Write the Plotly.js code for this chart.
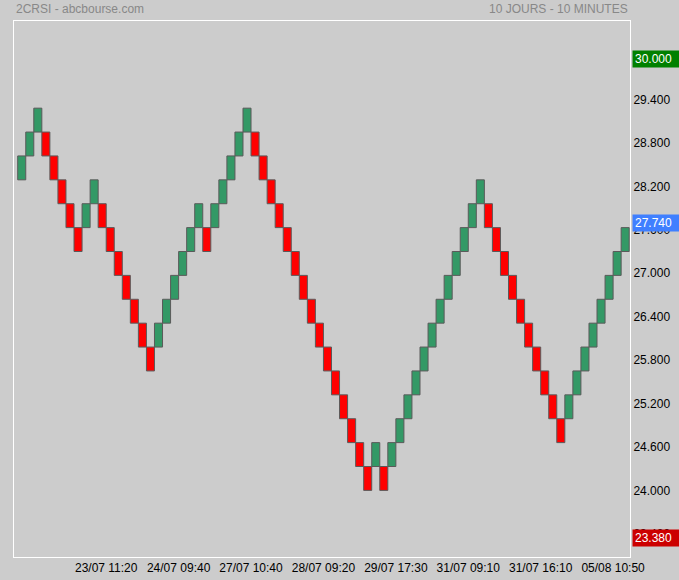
<!DOCTYPE html>
<html>
<head>
<meta charset="utf-8">
<script src="https://cdn.plot.ly/plotly-3.0.1.min.js"></script>
<style>
  html, body { margin: 0; padding: 0; background: #cccccc; }
  #chart { width: 679px; height: 580px; }
</style>
</head>
<body>
<div id="chart"></div>
<script>
// Renko bricks, in chronological order
const brickOpen = [
  28.29, 28.62, 28.95, 28.95, 28.62, 28.29, 27.96, 27.63, 27.63, 27.96,
  27.96, 27.63, 27.30, 26.97, 26.64, 26.31, 25.98, 25.98, 26.31, 26.64,
  26.97, 27.30, 27.63, 27.63, 27.63, 27.96, 28.29, 28.62, 28.95, 28.95,
  28.62, 28.29, 27.96, 27.63, 27.30, 26.97, 26.64, 26.31, 25.98, 25.65,
  25.32, 24.99, 24.66, 24.33, 24.33, 24.33, 24.33, 24.66, 24.99, 25.32,
  25.65, 25.98, 26.31, 26.64, 26.97, 27.30, 27.63, 27.96, 27.96, 27.63,
  27.30, 26.97, 26.64, 26.31, 25.98, 25.65, 25.32, 24.99, 24.99, 25.32,
  25.65, 25.98, 26.31, 26.64, 26.97, 27.30
];
const brickClose = [
  28.62, 28.95, 29.28, 28.62, 28.29, 27.96, 27.63, 27.30, 27.96, 28.29,
  27.63, 27.30, 26.97, 26.64, 26.31, 25.98, 25.65, 26.31, 26.64, 26.97,
  27.30, 27.63, 27.96, 27.30, 27.96, 28.29, 28.62, 28.95, 29.28, 28.62,
  28.29, 27.96, 27.63, 27.30, 26.97, 26.64, 26.31, 25.98, 25.65, 25.32,
  24.99, 24.66, 24.33, 24.00, 24.66, 24.00, 24.66, 24.99, 25.32, 25.65,
  25.98, 26.31, 26.64, 26.97, 27.30, 27.63, 27.96, 28.29, 27.63, 27.30,
  26.97, 26.64, 26.31, 25.98, 25.65, 25.32, 24.99, 24.66, 25.32, 25.65,
  25.98, 26.31, 26.64, 26.97, 27.30, 27.63
];

// Date tick labels and the brick positions they sit on
const dateTickPos = [10.5, 19.5, 28.5, 37.5, 46.5, 55.5, 64.5, 73.5];
const dateTickText = [
  "23/07 11:20", "24/07 09:40", "27/07 10:40", "28/07 09:20",
  "29/07 17:30", "31/07 09:10", "31/07 16:10", "05/08 10:50"
];

// Highlighted price labels on the right scale
const highPrice = 30.000;
const lastPrice = 27.740;
const lowPrice = 23.380;

const titleLeft = "2CRSI - abcbourse.com";
const titleRight = "10 JOURS - 10 MINUTES";

const GREEN = "#339966";
const RED = "#ff0000";

const xs = brickOpen.map((_, i) => i);
const bases = brickOpen.map((o, i) => Math.min(o, brickClose[i]));
const heights = brickOpen.map((o, i) => Math.abs(brickClose[i] - o));
const colors = brickOpen.map((o, i) => (brickClose[i] > o ? GREEN : RED));

const trace = {
  type: "bar",
  x: xs,
  y: heights,
  base: bases,
  width: 1,
  marker: { color: colors, line: { color: "#5a5a5a", width: 1 } },
  hoverinfo: "skip"
};

function priceBox(v, bg) {
  return {
    xref: "paper", yref: "y", x: 1, y: v,
    xanchor: "left", yanchor: "middle",
    xshift: 2, yshift: -3,
    text: v.toFixed(3),
    showarrow: false,
    align: "left",
    width: 43, height: 12,
    borderpad: 2,
    bgcolor: bg,
    font: { family: "Liberation Sans, Arial, sans-serif", size: 12, color: "#ffffff" }
  };
}

const layout = {
  width: 679, height: 580,
  paper_bgcolor: "#cccccc",
  plot_bgcolor: "#cccccc",
  margin: { l: 14, r: 49, t: 21, b: 23, pad: 0 },
  showlegend: false,
  bargap: 0,
  hovermode: false,
  font: { family: "Liberation Sans, Arial, sans-serif", size: 12, color: "#000000" },
  xaxis: {
    range: [-0.96, 75.6],
    showgrid: false, zeroline: false,
    showline: true, linecolor: "#ffffff", linewidth: 1, mirror: true,
    ticks: "",
    tickmode: "array", tickvals: dateTickPos, ticktext: dateTickText,
    tickfont: { size: 12, color: "#000000" }
  },
  yaxis: {
    range: [23.08, 30.484],
    side: "right",
    showgrid: false, zeroline: false,
    showline: true, linecolor: "#ffffff", linewidth: 1, mirror: true,
    ticks: "",
    tick0: 24.0, dtick: 0.6,
    tickformat: ".3f",
    tickfont: { size: 12, color: "#000000" }
  },
  annotations: [
    {
      xref: "paper", yref: "paper", x: 0, y: 1,
      xanchor: "left", yanchor: "middle", yshift: 12,
      text: titleLeft, showarrow: false,
      font: { size: 12, color: "#888888" }
    },
    {
      xref: "paper", yref: "paper", x: 1, y: 1,
      xanchor: "right", yanchor: "middle", yshift: 12,
      text: titleRight, showarrow: false,
      font: { size: 12, color: "#888888" }
    },
    priceBox(highPrice, "#008000"),
    priceBox(lastPrice, "#3f7fff"),
    priceBox(lowPrice, "#cc0000")
  ]
};

Plotly.newPlot("chart", [trace], layout, { displayModeBar: false, staticPlot: true });
</script>
</body>
</html>
